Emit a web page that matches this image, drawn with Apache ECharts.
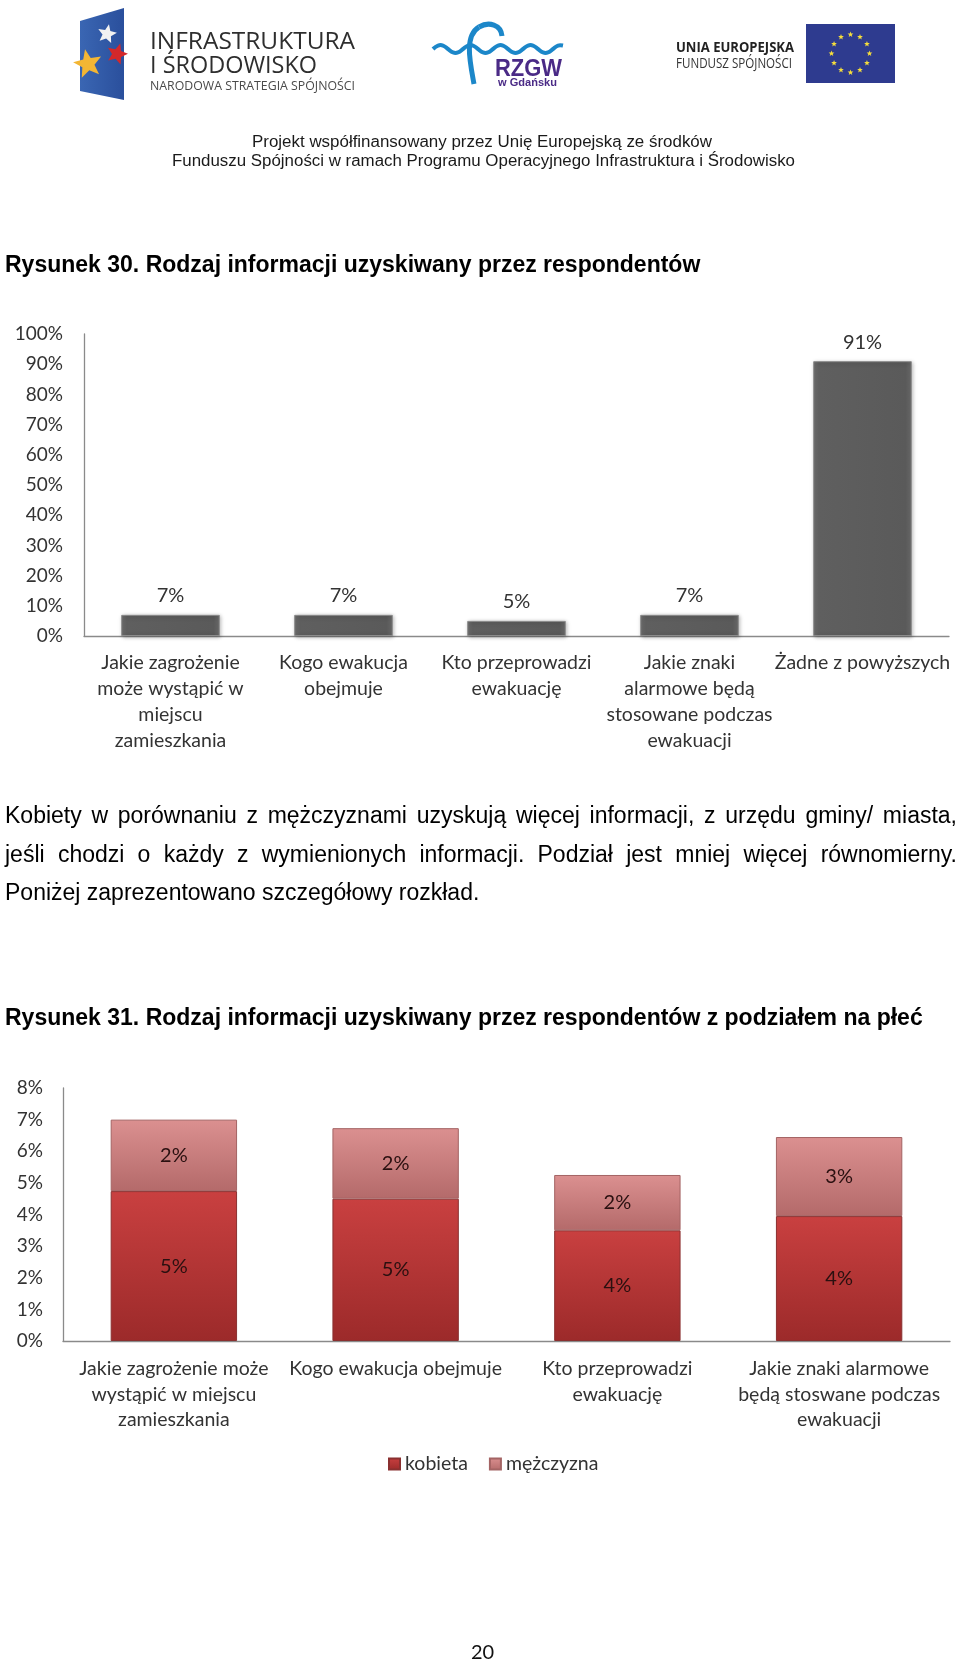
<!DOCTYPE html>
<html>
<head>
<meta charset="utf-8">
<script src="https://cdn.jsdelivr.net/npm/echarts@6.0.0/dist/echarts.min.js"></script>
<style>
  html, body { margin: 0; padding: 0; background: #fff; }
  #page { position: relative; width: 960px; height: 1661px; overflow: hidden; background: #fff; }
  #chart { position: absolute; left: 0; top: 0; width: 960px; height: 1661px; }
  .t { position: absolute; white-space: nowrap; transform-origin: 0 50%; color: #000; }
  .arial { font-family: "Liberation Sans", Arial, sans-serif; }
  .title { font-family: "Liberation Sans", Arial, sans-serif; font-weight: bold; font-size: 23px; line-height: 28px; }
  #para { position: absolute; left: 5px; top: 796px; width: 952px; font-family: "Liberation Sans", Arial, sans-serif;
          font-size: 23px; line-height: 38.5px; text-align: justify; color: #000; }
</style>
</head>
<body>
<div id="page">
  <div id="chart"></div>

  <!-- header texts -->
  <div class="t" data-w="205" style="left:150px;top:28px;font-family:'Open Sans';font-size:24px;line-height:24px;color:#2e2e2e;">INFRASTRUKTURA</div>
  <div class="t" data-w="167" style="left:150px;top:52px;font-family:'Open Sans';font-size:24px;line-height:24px;color:#2e2e2e;">I ŚRODOWISKO</div>
  <div class="t" data-w="205" style="left:150px;top:79px;font-family:'Open Sans';font-size:12px;line-height:14px;color:#4a4a4a;">NARODOWA STRATEGIA SPÓJNOŚCI</div>
  <div class="t arial" data-w="67" style="left:495px;top:56px;font-weight:bold;font-size:24px;line-height:24px;color:#4a2a86;">RZGW</div>
  <div class="t arial" data-w="59" style="left:498px;top:76px;font-weight:bold;font-size:11px;line-height:13px;color:#4a2a86;">w Gdańsku</div>
  <div class="t" data-w="118" style="left:676px;top:39px;font-family:'Open Sans';font-weight:bold;font-size:14px;line-height:16px;color:#222;">UNIA EUROPEJSKA</div>
  <div class="t" data-w="116" style="left:676px;top:55px;font-family:'Open Sans';font-size:14px;line-height:16px;color:#333;">FUNDUSZ SPÓJNOŚCI</div>
  <div class="t arial" data-w="460" style="left:252px;top:133px;font-size:16px;line-height:18px;color:#1a1a1a;">Projekt współfinansowany przez Unię Europejską ze środków</div>
  <div class="t arial" data-w="623" style="left:172px;top:152px;font-size:16px;line-height:18px;color:#1a1a1a;">Funduszu Spójności w ramach Programu Operacyjnego Infrastruktura i Środowisko</div>

  <!-- document texts -->
  <div class="t title" style="left:5px;top:250px;">Rysunek 30. Rodzaj informacji uzyskiwany przez respondentów</div>
  <div id="para">Kobiety w porównaniu z mężczyznami uzyskują więcej informacji, z urzędu gminy/ miasta, jeśli chodzi o każdy z wymienionych informacji. Podział jest mniej więcej równomierny. Poniżej zaprezentowano szczegółowy rozkład.</div>
  <div class="t title" style="left:5px;top:1003px;">Rysunek 31. Rodzaj informacji uzyskiwany przez respondentów z podziałem na płeć</div>
  <div class="t" style="left:471px;top:1638px;font-family:Lato;font-size:20px;line-height:26px;color:#111;">20</div>
</div>

<script>
// ---------- data ----------
const categories1 = [
  "Jakie zagrożenie\nmoże wystąpić w\nmiejscu\nzamieszkania",
  "Kogo ewakucja\nobejmuje",
  "Kto przeprowadzi\newakuację",
  "Jakie znaki\nalarmowe będą\nstosowane podczas\newakuacji",
  "Żadne z powyższych"
];
const values1 = [7, 7, 5, 7, 91];
const yTicks1 = { min: 0, max: 100, interval: 10 };

const categories2 = [
  "Jakie zagrożenie może\nwystąpić w miejscu\nzamieszkania",
  "Kogo ewakucja obejmuje",
  "Kto przeprowadzi\newakuację",
  "Jakie znaki alarmowe\nbędą stoswane podczas\newakuacji"
];
const kobieta = [4.74, 4.5, 3.5, 3.95];
const mezczyzna = [2.26, 2.23, 1.75, 2.5];
const yTicks2 = { min: 0, max: 8, interval: 1 };
const seriesNames2 = ["kobieta", "mężczyzna"];

// ---------- fit header texts ----------
function fitTexts() {
  document.querySelectorAll('.t[data-w]').forEach(el => {
    el.style.transform = 'none';
    const w = el.getBoundingClientRect().width;
    const target = parseFloat(el.dataset.w);
    if (w > 0) el.style.transform = 'scaleX(' + (target / w) + ')';
  });
}

// ---------- decorative logo shapes ----------
function starPts(cx, cy, R, r, rot) {
  const pts = [];
  for (let i = 0; i < 10; i++) {
    const a = -Math.PI / 2 + i * Math.PI / 5 + (rot || 0);
    const rad = i % 2 ? r : R;
    pts.push([cx + rad * Math.cos(a), cy + rad * Math.sin(a)]);
  }
  return pts;
}
const logo = [];
logo.push({ type: 'polygon', shape: { points: [[80, 21], [124, 8], [124, 100], [80, 91]] },
  style: { fill: new echarts.graphic.LinearGradient(0, 0, 1, 0, [{ offset: 0, color: '#3a66b3' }, { offset: 1, color: '#2a4f9c' }]) } });
logo.push({ type: 'polygon', shape: { points: starPts(107, 34, 10, 4.5, 0.2) }, style: { fill: '#f2f2f2' } });
logo.push({ type: 'polygon', shape: { points: starPts(117, 54, 11, 5, 0.3) }, style: { fill: '#d3282b' } });
logo.push({ type: 'polygon', shape: { points: starPts(88, 64, 15, 6.5, -0.2) }, style: { fill: '#f3b634' } });
// RZGW waves
const wave = [];
for (let x = 433; x <= 564; x += 5) wave.push([x, 49 + 4 * Math.sin((x - 433) / 30 * Math.PI * 2 + Math.PI)]);
logo.push({ type: 'polyline', shape: { points: wave, smooth: 0.4 }, style: { fill: null, stroke: '#1c87c9', lineWidth: 4 } });
logo.push({ type: 'bezierCurve', shape: { x1: 474, y1: 84, cpx1: 470, cpy1: 62, cpx2: 464, cpy2: 36, x2: 479, y2: 27 },
  style: { fill: null, stroke: '#1c87c9', lineWidth: 5 } });
logo.push({ type: 'bezierCurve', shape: { x1: 479, y1: 27, cpx1: 489, cpy1: 21, cpx2: 501, cpy2: 25, x2: 502, y2: 36 },
  style: { fill: null, stroke: '#1c87c9', lineWidth: 5 } });
// EU flag
logo.push({ type: 'rect', shape: { x: 806, y: 24, width: 89, height: 59 }, style: { fill: '#2e3b8f' } });
for (let i = 0; i < 12; i++) {
  const a = i * Math.PI / 6;
  logo.push({ type: 'polygon', shape: { points: starPts(850.5 + 19 * Math.cos(a), 53.5 + 19 * Math.sin(a), 3, 1.3, 0) },
    style: { fill: '#f5dd3c' } });
}

// ---------- chart ----------
const font = 'Lato';
const txt = '#333';
const axisLine = { show: true, lineStyle: { color: '#8a8a8a', width: 1.3 } };

const chart = echarts.init(document.getElementById('chart'), null, { renderer: 'canvas' });
const option = {
  animation: false,
  textStyle: { fontFamily: font },
  graphic: { elements: logo },
  grid: [
    { left: 84, top: 334, width: 865, height: 302 },
    { left: 63, top: 1088, width: 887, height: 253 }
  ],
  legend: {
    data: seriesNames2,
    left: 388, top: 1454, padding: 0,
    icon: 'rect', itemWidth: 11, itemHeight: 11, itemGap: 21,
    textStyle: { fontFamily: font, fontSize: 19.5, color: txt }
  },
  xAxis: [
    { type: 'category', gridIndex: 0, data: categories1, axisLine: axisLine, axisTick: { show: false },
      axisLabel: { interval: 0, margin: 14, fontSize: 19.5, lineHeight: 26, color: txt, fontFamily: font } },
    { type: 'category', gridIndex: 1, data: categories2, axisLine: axisLine, axisTick: { show: false },
      axisLabel: { interval: 0, margin: 15, fontSize: 19.5, lineHeight: 25.5, color: txt, fontFamily: font } }
  ],
  yAxis: [
    { type: 'value', gridIndex: 0, min: yTicks1.min, max: yTicks1.max, interval: yTicks1.interval,
      axisLine: axisLine, axisTick: { show: false }, splitLine: { show: false },
      axisLabel: { formatter: '{value}%', margin: 21, fontSize: 19, color: txt, fontFamily: font } },
    { type: 'value', gridIndex: 1, min: yTicks2.min, max: yTicks2.max, interval: yTicks2.interval,
      axisLine: axisLine, axisTick: { show: false }, splitLine: { show: false },
      axisLabel: { formatter: '{value}%', margin: 20, fontSize: 19, color: txt, fontFamily: font } }
  ],
  series: [
    { type: 'bar', xAxisIndex: 0, yAxisIndex: 0, data: values1, barWidth: '57%',
      itemStyle: {
        color: new echarts.graphic.LinearGradient(0, 0, 1, 0, [
          { offset: 0, color: '#707070' }, { offset: 0.06, color: '#5f5f5f' },
          { offset: 0.94, color: '#5a5a5a' }, { offset: 1, color: '#6c6c6c' }]),
        borderColor: '#8c8c8c', borderWidth: 1,
        shadowColor: 'rgba(0,0,0,0.3)', shadowBlur: 4, shadowOffsetX: 1, shadowOffsetY: 1
      },
      label: { show: true, position: 'top', distance: 9, fontSize: 20, color: txt, fontFamily: font,
        formatter: p => Math.round(p.value) + '%' } },
    { name: seriesNames2[0], type: 'bar', xAxisIndex: 1, yAxisIndex: 1, stack: 'g', data: kobieta, barWidth: '57%',
      itemStyle: {
        color: new echarts.graphic.LinearGradient(0, 0, 0, 1, [
          { offset: 0, color: '#c94040' }, { offset: 1, color: '#9c2a2a' }]),
        borderColor: '#8a3030', borderWidth: 1
      },
      label: { show: true, position: 'inside', fontSize: 20, color: '#2a1010', fontFamily: font,
        formatter: p => Math.round(p.value) + '%' } },
    { name: seriesNames2[1], type: 'bar', xAxisIndex: 1, yAxisIndex: 1, stack: 'g', data: mezczyzna, barWidth: '57%',
      itemStyle: {
        color: new echarts.graphic.LinearGradient(0, 0, 0, 1, [
          { offset: 0, color: '#db9090' }, { offset: 1, color: '#b46a6a' }]),
        borderColor: '#a46464', borderWidth: 1
      },
      label: { show: true, position: 'inside', fontSize: 20, color: '#2a1010', fontFamily: font,
        formatter: p => Math.round(p.value) + '%' } }
  ]
};
chart.setOption(option);
fitTexts();
if (document.fonts && document.fonts.ready) {
  document.fonts.ready.then(() => { fitTexts(); chart.setOption(option, true); });
}
</script>
</body>
</html>
